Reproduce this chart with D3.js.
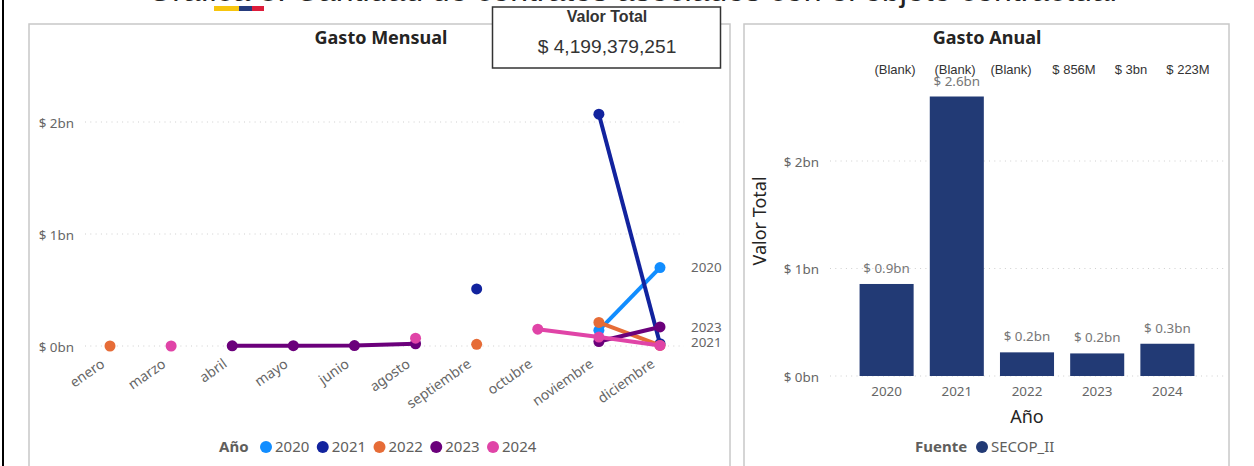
<!DOCTYPE html>
<html>
<head>
<meta charset="utf-8">
<script src="https://cdn.jsdelivr.net/npm/d3@7/dist/d3.min.js"></script>
<style>
  html, body { margin: 0; padding: 0; background: #fff; overflow: hidden; }
  svg { display: block; }
  text { font-family: "Noto Sans", "Open Sans", sans-serif; }
  .arial { font-family: "Liberation Sans", Arial, sans-serif; }
</style>
</head>
<body>
<svg id="chart" width="1254" height="466"></svg>
<script>
const months = ['enero', 'marzo', 'abril', 'mayo', 'junio', 'agosto', 'septiembre', 'octubre', 'noviembre', 'diciembre'];

const years = ['2020', '2021', '2022', '2023', '2024'];
const yearColors = ['#118dff', '#12239e', '#e66c37', '#6b007b', '#e044a7'];

// monthly spend in $bn, null = no contract that month
const gasto2020 = [null, null, null, null, null, null, null, null, 0.14, 0.70];
const gasto2021 = [null, null, null, null, null, null, 0.51, null, 2.07, 0.02];
const gasto2022 = [0.0, null, null, null, null, null, 0.015, null, 0.21, 0.005];
const gasto2023 = [null, null, 0.002, 0.003, 0.004, 0.02, null, null, 0.04, 0.17];
const gasto2024 = [null, 0.0, null, null, null, 0.07, null, 0.15, 0.08, 0.005];
const monthlySeries = [gasto2020, gasto2021, gasto2022, gasto2023, gasto2024];

// end-of-line labels
const endLabels = ['2020', '2023', '2021'];
const endLabelValues = [0.70, 0.17, 0.03];

const annualYears = ['2020', '2021', '2022', '2023', '2024'];
const annualValues = [0.856, 2.6, 0.22, 0.21, 0.30];
const annualLabels = ['$ 0.9bn', '$ 2.6bn', '$ 0.2bn', '$ 0.2bn', '$ 0.3bn'];
const topStrip = ['(Blank)', '(Blank)', '(Blank)', '$ 856M', '$ 3bn', '$ 223M'];
const topStripX = [895, 955, 1011, 1074, 1131, 1188];

const yTicks = [0, 1, 2];
const fmtBn = d => `$ ${d}bn`;
const tickSize = 13.4;

const svg = d3.select('#chart');

// page frame, only the left edge falls inside the screenshot
svg.append('line').attr('x1', 3).attr('x2', 3).attr('y1', 0).attr('y2', 466)
  .attr('stroke', '#000').attr('stroke-width', 2);

svg.append('text').attr('class', 'arial').attr('x', 632).attr('y', 1)
  .attr('text-anchor', 'middle').attr('font-size', 32).attr('fill', '#222')
  .text('Gráfica 8. Cantidad de contratos asociados con el objeto contractual');

// flag underline
const flag = [['#f7c50d', 214, 25], ['#263b7c', 239, 13], ['#dd1c3a', 252, 12]];
svg.selectAll('.flag').data(flag).join('rect').attr('class', 'flag')
  .attr('x', d => d[1]).attr('y', 6).attr('width', d => d[2]).attr('height', 5)
  .attr('fill', d => d[0]);

// panels
[[29, 24, 701, 450], [744, 24, 485, 450]].forEach(p => {
  svg.append('rect').attr('x', p[0]).attr('y', p[1]).attr('width', p[2]).attr('height', p[3])
    .attr('fill', '#fff').attr('stroke', '#c8c8c8').attr('stroke-width', 1.5);
});

function gridAxis(g, y, x0, x1, labelX) {
  g.selectAll('.grid').data(yTicks).join('line').attr('class', 'grid')
    .attr('x1', x0).attr('x2', x1).attr('y1', y).attr('y2', y)
    .attr('stroke', '#cfcfcf').attr('stroke-width', 1).attr('stroke-dasharray', '1 4.3');
  g.selectAll('.ylab').data(yTicks).join('text').attr('class', 'ylab')
    .attr('x', labelX).attr('y', d => y(d) + 1).attr('dy', '0.35em')
    .attr('text-anchor', 'end').attr('font-size', tickSize).attr('fill', '#666')
    .text(fmtBn);
}

// ---- Gasto Mensual
const xM = d3.scalePoint().domain(months).range([110, 660]);
const yM = d3.scaleLinear().domain([0, 2]).range([346, 122]);
const left = svg.append('g');

left.append('text').attr('x', 381).attr('y', 44).attr('text-anchor', 'middle')
  .attr('font-size', 18).attr('font-weight', 700).attr('fill', '#252423').text('Gasto Mensual');

gridAxis(left, yM, 85, 684, 74);

left.selectAll('.mlab').data(months).join('text').attr('class', 'mlab')
  .attr('transform', d => `translate(${xM(d) - 10},358) rotate(-35)`)
  .attr('text-anchor', 'end').attr('dy', '0.7em').attr('font-size', 14).attr('fill', '#666')
  .text(d => d);

const line = d3.line().defined(d => d !== null)
  .x((d, i) => xM(months[i])).y(d => yM(d));

monthlySeries.forEach((vals, s) => {
  const g = left.append('g');
  g.append('path').attr('d', line(vals)).attr('fill', 'none')
    .attr('stroke', yearColors[s]).attr('stroke-width', 4);
  g.selectAll('circle').data(vals.map((v, i) => [v, i]).filter(d => d[0] !== null)).join('circle')
    .attr('cx', d => xM(months[d[1]])).attr('cy', d => yM(d[0])).attr('r', 5.5)
    .attr('fill', yearColors[s]);
});

left.selectAll('.endlab').data(endLabels).join('text').attr('class', 'endlab')
  .attr('x', 691).attr('y', (d, i) => yM(endLabelValues[i])).attr('dy', '0.35em')
  .attr('font-size', tickSize).attr('fill', '#666').text(d => d);

// legend
const legM = left.append('g');
legM.append('text').attr('x', 219).attr('y', 452).attr('font-size', 15)
  .attr('font-weight', 700).attr('fill', '#605e5c').text('Año');
const legX = d3.scalePoint().domain(years).range([266, 493]);
legM.selectAll('circle').data(years).join('circle')
  .attr('cx', d => legX(d)).attr('cy', 447).attr('r', 6)
  .attr('fill', (d, i) => yearColors[i]);
legM.selectAll('.t').data(years).join('text').attr('class', 't')
  .attr('x', d => legX(d) + 9).attr('y', 452).attr('font-size', 15).attr('fill', '#605e5c')
  .text(d => d);

// ---- Gasto Anual
const xA = d3.scaleBand().domain(annualYears).range([851.5, 1202.5]).paddingInner(0.23).paddingOuter(0.115);
const yA = d3.scaleLinear().domain([0, 2]).range([376, 161]);
const right = svg.append('g');

right.append('text').attr('x', 987).attr('y', 44).attr('text-anchor', 'middle')
  .attr('font-size', 18).attr('font-weight', 700).attr('fill', '#252423').text('Gasto Anual');

gridAxis(right, yA, 830, 1225, 819);

right.selectAll('.bar').data(annualValues).join('rect').attr('class', 'bar')
  .attr('x', (d, i) => xA(annualYears[i])).attr('width', xA.bandwidth())
  .attr('y', d => yA(d)).attr('height', d => yA(0) - yA(d))
  .attr('fill', '#223a75');

right.selectAll('.strip').data(topStrip).join('text').attr('class', 'strip arial')
  .attr('x', (d, i) => topStripX[i]).attr('y', 74).attr('text-anchor', 'middle')
  .attr('font-size', 13).attr('fill', '#333').text(d => d);

right.selectAll('.blab').data(annualLabels).join('text').attr('class', 'blab')
  .attr('x', (d, i) => xA(annualYears[i]) + xA.bandwidth() / 2)
  .attr('y', (d, i) => yA(annualValues[i]) - 11)
  .attr('text-anchor', 'middle').attr('font-size', tickSize).attr('fill', '#777')
  .text(d => d);

right.selectAll('.xlab').data(annualYears).join('text').attr('class', 'xlab')
  .attr('x', d => xA(d) + xA.bandwidth() / 2).attr('y', 396)
  .attr('text-anchor', 'middle').attr('font-size', tickSize).attr('fill', '#666').text(d => d);

right.append('text').attr('x', 1027).attr('y', 423).attr('text-anchor', 'middle')
  .attr('font-size', 18).attr('fill', '#252423').text('Año');

right.append('text').attr('transform', 'translate(766,221) rotate(-90)').attr('text-anchor', 'middle')
  .attr('font-size', 18).attr('fill', '#252423').text('Valor Total');

right.append('text').attr('x', 915).attr('y', 452).attr('font-size', 15)
  .attr('font-weight', 700).attr('fill', '#605e5c').text('Fuente');
right.append('circle').attr('cx', 982).attr('cy', 447).attr('r', 6).attr('fill', '#223a75');
right.append('text').attr('x', 991).attr('y', 452).attr('font-size', 15).attr('fill', '#605e5c').text('SECOP_II');

// ---- Valor Total card
const card = svg.append('g');
card.append('rect').attr('x', 492.5).attr('y', 7).attr('width', 228).attr('height', 61)
  .attr('fill', '#fff').attr('stroke', '#333').attr('stroke-width', 1.5);
card.append('text').attr('class', 'arial').attr('x', 607).attr('y', 22).attr('text-anchor', 'middle')
  .attr('font-size', 16).attr('font-weight', 700).attr('fill', '#333').text('Valor Total');
card.append('text').attr('class', 'arial').attr('x', 607).attr('y', 53).attr('text-anchor', 'middle')
  .attr('font-size', 19.2).attr('fill', '#333').text('$ 4,199,379,251');
</script>
</body>
</html>
